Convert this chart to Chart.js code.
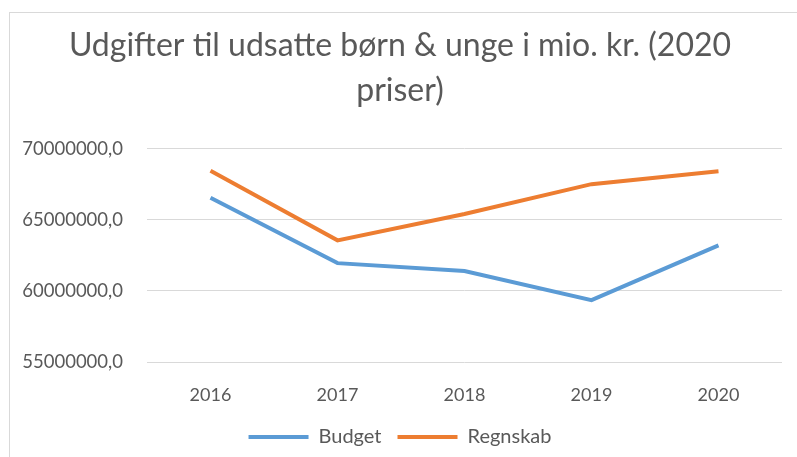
<!DOCTYPE html>
<html>
<head>
<meta charset="utf-8">
<script src="https://cdn.jsdelivr.net/npm/chart.js@4/dist/chart.umd.min.js"></script>
<style>
  body { margin: 0; background: #fff; }
  #wrap { position: relative; width: 797px; height: 457px; overflow: hidden; }
  #frame { position: absolute; left: 9px; top: 12px; width: 900px; height: 600px; border: 1px solid #d9d9d9; }
  #chart { position: absolute; left: 0; top: 0; }
</style>
</head>
<body>
<div id="wrap">
  <div id="frame"></div>
  <canvas id="chart" width="797" height="457"></canvas>
</div>
<script>
// data
var years = ['2016', '2017', '2018', '2019', '2020'];
var budget = [66550000, 61950000, 61400000, 59350000, 63200000];
var regnskab = [68450000, 63550000, 65400000, 67500000, 68400000];
var yTicks = [55000000, 60000000, 65000000, 70000000];
var titleLines = ['Udgifter til udsatte børn & unge i mio. kr. (2020', 'priser)'];

var grey = '#595959';
var fontName = 'Lato, "Open Sans", sans-serif';

var ctx = document.getElementById('chart');
var myChart = new Chart(ctx, {
  type: 'line',
  data: {
    labels: years,
    datasets: [{
      label: 'Budget',
      data: budget,
      borderColor: '#5b9bd5',
      backgroundColor: '#5b9bd5',
      borderWidth: 4,
      pointRadius: 0,
      tension: 0
    }, {
      label: 'Regnskab',
      data: regnskab,
      borderColor: '#ed7d31',
      backgroundColor: '#ed7d31',
      borderWidth: 4,
      pointRadius: 0,
      tension: 0
    }]
  },
  options: {
    responsive: false,
    animation: false,
    layout: { padding: { top: 12, right: 15, left: 18, bottom: 0 } },
    plugins: {
      title: {
        display: true,
        text: titleLines,
        color: grey,
        font: { family: fontName, size: 32, weight: 'normal', lineHeight: 1.4 },
        padding: { top: 11, bottom: 36 }
      },
      legend: {
        position: 'bottom',
        labels: {
          color: grey,
          font: { family: fontName, size: 20 },
          usePointStyle: true,
          pointStyle: 'line',
          pointStyleWidth: 60,
          padding: 16
        }
      },
      tooltip: { enabled: false }
    },
    scales: {
      x: {
        offset: true,
        grid: { display: false, drawTicks: false },
        border: { display: false },
        ticks: { color: grey, font: { family: fontName, size: 18 }, padding: 22 },
        afterFit: function (scale) { scale.height = 49; }
      },
      y: {
        min: 55000000,
        max: 70000000,
        grid: { color: '#d9d9d9', lineWidth: 1, drawTicks: false },
        border: { display: false },
        afterBuildTicks: function (scale) {
          scale.ticks = yTicks.map(function (v) { return { value: v }; });
        },
        afterFit: function (scale) { scale.width = 129; },
        ticks: {
          color: grey,
          font: { family: fontName, size: 18.5 },
          padding: 24,
          callback: function (value) { return value.toFixed(1).replace('.', ','); }
        }
      }
    }
  }
});
</script>
</body>
</html>
